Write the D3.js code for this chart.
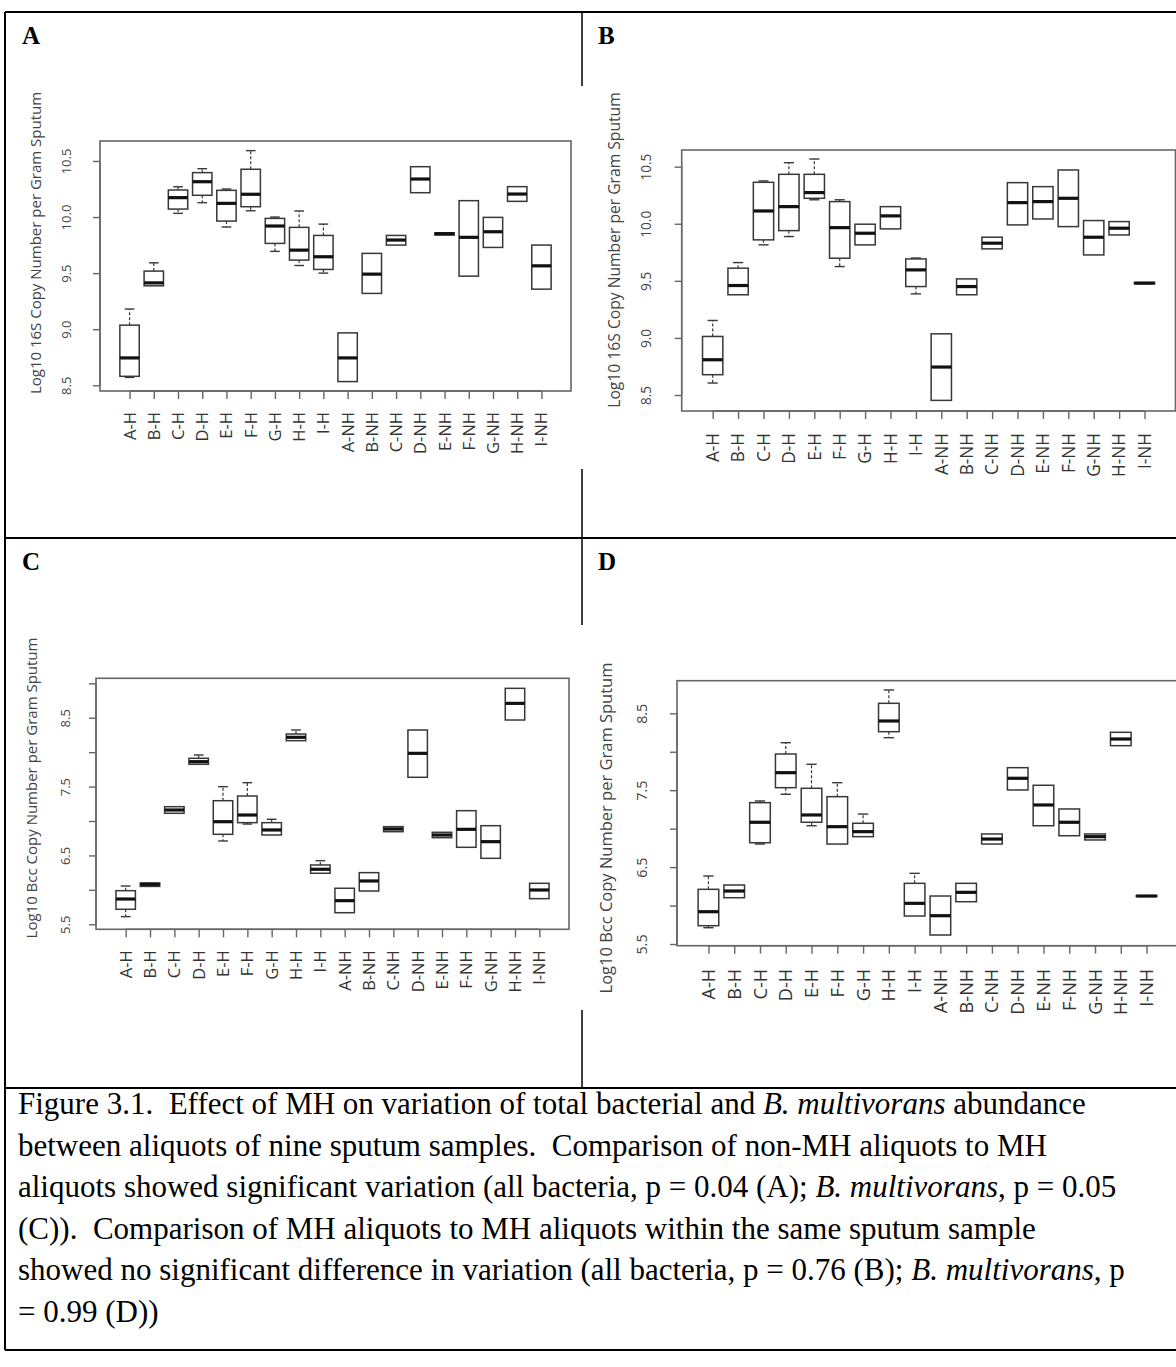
<!DOCTYPE html>
<html>
<head>
<meta charset="utf-8">
<script src="https://cdn.jsdelivr.net/npm/d3@7/dist/d3.min.js"></script>
<style>
  body { margin: 0; background: #fff; }
  svg text { white-space: pre; }
</style>
</head>
<body>
<svg id="fig" width="1176" height="1367"></svg>
<script>
// Aliquot labels along every x axis
const categories = ["A-H","B-H","C-H","D-H","E-H","F-H","G-H","H-H","I-H",
                    "A-NH","B-NH","C-NH","D-NH","E-NH","F-NH","G-NH","H-NH","I-NH"];

// Five-number summaries per aliquot: [lower whisker, Q1, median, Q3, upper whisker]
// A: total bacteria (16S), non-MH vs MH
const statsA = [
  [8.57, 8.58, 8.744, 9.036, 9.18], [9.387, 9.387, 9.413, 9.518, 9.592],
  [10.033, 10.071, 10.173, 10.241, 10.27], [10.128, 10.194, 10.315, 10.396, 10.431],
  [9.911, 9.964, 10.122, 10.238, 10.25], [10.056, 10.092, 10.203, 10.426, 10.592],
  [9.694, 9.765, 9.92, 9.988, 10.0], [9.568, 9.616, 9.705, 9.908, 10.054],
  [9.50, 9.533, 9.646, 9.836, 9.937], [8.533, 8.533, 8.744, 8.967, 8.967],
  [9.319, 9.319, 9.491, 9.676, 9.676], [9.75, 9.75, 9.795, 9.836, 9.836],
  [10.217, 10.217, 10.339, 10.449, 10.449], [9.84, 9.84, 9.851, 9.86, 9.86],
  [9.473, 9.473, 9.819, 10.146, 10.146], [9.729, 9.729, 9.869, 9.997, 9.997],
  [10.14, 10.14, 10.205, 10.271, 10.271], [9.357, 9.357, 9.565, 9.75, 9.75]
];
// B: total bacteria (16S), MH vs MH
const statsB = [
  [8.605, 8.678, 8.809, 9.013, 9.153], [9.378, 9.378, 9.459, 9.611, 9.66],
  [9.815, 9.859, 10.112, 10.363, 10.375], [9.888, 9.94, 10.15, 10.433, 10.535],
  [10.21, 10.223, 10.273, 10.433, 10.567], [9.625, 9.698, 9.966, 10.194, 10.21],
  [9.815, 9.815, 9.917, 9.996, 9.996], [9.955, 9.955, 10.069, 10.15, 10.15],
  [9.386, 9.45, 9.596, 9.692, 9.70], [8.453, 8.453, 8.745, 9.036, 9.036],
  [9.378, 9.378, 9.45, 9.517, 9.517], [9.78, 9.78, 9.83, 9.882, 9.882],
  [9.99, 9.99, 10.185, 10.36, 10.36], [10.042, 10.042, 10.194, 10.325, 10.325],
  [9.975, 9.975, 10.223, 10.471, 10.471], [9.727, 9.727, 9.882, 10.028, 10.028],
  [9.902, 9.902, 9.961, 10.019, 10.019], [9.475, 9.475, 9.48, 9.485, 9.485]
];
// C: B. multivorans (Bcc), non-MH vs MH
const statsC = [
  [5.611, 5.718, 5.867, 5.988, 6.056], [6.05, 6.05, 6.08, 6.1, 6.1],
  [7.112, 7.112, 7.16, 7.208, 7.208], [7.824, 7.824, 7.862, 7.911, 7.959],
  [6.71, 6.807, 6.99, 7.295, 7.499], [6.956, 6.976, 7.087, 7.363, 7.557],
  [6.797, 6.797, 6.87, 6.976, 7.025], [8.167, 8.167, 8.216, 8.264, 8.322],
  [6.241, 6.241, 6.299, 6.361, 6.424], [5.668, 5.668, 5.843, 6.023, 6.023],
  [5.983, 5.983, 6.129, 6.25, 6.25], [6.845, 6.845, 6.884, 6.918, 6.918],
  [7.635, 7.635, 7.983, 8.322, 8.322], [6.758, 6.758, 6.797, 6.836, 6.836],
  [6.618, 6.618, 6.879, 7.15, 7.15], [6.458, 6.458, 6.70, 6.932, 6.932],
  [8.467, 8.467, 8.709, 8.927, 8.927], [5.872, 5.872, 5.998, 6.095, 6.095]
];
// D: B. multivorans (Bcc), MH vs MH
const statsD = [
  [5.712, 5.738, 5.92, 6.211, 6.384], [6.102, 6.102, 6.189, 6.267, 6.267],
  [6.80, 6.817, 7.083, 7.338, 7.36], [7.447, 7.533, 7.728, 7.971, 8.118],
  [7.038, 7.083, 7.178, 7.525, 7.837], [6.80, 6.80, 7.026, 7.416, 7.598],
  [6.896, 6.896, 6.961, 7.07, 7.19], [8.183, 8.261, 8.40, 8.63, 8.803],
  [5.864, 5.864, 6.029, 6.289, 6.419], [5.617, 5.617, 5.868, 6.124, 6.124],
  [6.05, 6.05, 6.172, 6.289, 6.289], [6.80, 6.80, 6.865, 6.931, 6.931],
  [7.503, 7.503, 7.655, 7.793, 7.793], [7.038, 7.038, 7.308, 7.564, 7.564],
  [6.908, 6.908, 7.083, 7.256, 7.256], [6.853, 6.853, 6.896, 6.931, 6.931],
  [8.079, 8.079, 8.166, 8.253, 8.253], [6.12, 6.12, 6.124, 6.128, 6.128]
];

// Axis ticks and the labels printed beside them
const ticks16S = [8.5, 9.0, 9.5, 10.0, 10.5];
const tickLabels16S = ["8.5", "9.0", "9.5", "10.0", "10.5"];
const ticksBccC = [5.5, 6.0, 6.5, 7.0, 7.5, 8.0, 8.5, 9.0];
const ticksBccD = [5.5, 6.0, 6.5, 7.0, 7.5, 8.0, 8.5];
const tickLabelsBcc = ["5.5", "", "6.5", "", "7.5", "", "8.5", ""];

const title16S = "Log10 16S Copy Number per Gram Sputum";
const titleBcc = "Log10 Bcc Copy Number per Gram Sputum";
const panelLetters = ["A", "B", "C", "D"];

const captionLines = [
  ["Figure 3.1.  Effect of MH on variation of total bacterial and ", {i: "B. multivorans"}, " abundance"],
  ["between aliquots of nine sputum samples.  Comparison of non-MH aliquots to MH"],
  ["aliquots showed significant variation (all bacteria, p = 0.04 (A); ", {i: "B. multivorans"}, ", p = 0.05"],
  ["(C)).  Comparison of MH aliquots to MH aliquots within the same sputum sample"],
  ["showed no significant difference in variation (all bacteria, p = 0.76 (B); ", {i: "B. multivorans"}, ", p"],
  ["= 0.99 (D))"]
];

// ---------- layout ----------
const svg = d3.select("#fig");
const W = 1176;
const grid = { left: 5, right: 1176, top: 12, mid: 582, row1: 538, row2: 1088, bottom: 1350 };

const panels = [
  { stats: statsA, ticks: ticks16S, labels: tickLabels16S, title: title16S,
    box: { l: 100, r: 571, t: 141, b: 391 }, yDom: [8.449, 10.678], titleY: 243, fs: 1.0, lab: 29 },
  { stats: statsB, ticks: ticks16S, labels: tickLabels16S, title: title16S,
    box: { l: 681.7, r: 1175.5, t: 150, b: 411 }, yDom: [8.36, 10.646], titleY: 250, fs: 1.045, lab: 29 },
  { stats: statsC, ticks: ticksBccC, labels: tickLabelsBcc, title: titleBcc,
    box: { l: 96, r: 569, t: 678.3, b: 929.3 }, yDom: [5.427, 9.073], titleY: 788, fs: 1.0, lab: 26 },
  { stats: statsD, ticks: ticksBccD, labels: tickLabelsBcc, title: titleBcc,
    box: { l: 677, r: 1178, t: 680.7, b: 945.7 }, yDom: [5.478, 8.924], titleY: 828, fs: 1.1, lab: 27 }
];

const ink = "#383838";
const frameInk = "#666";
const textInk = "#444";
const sans = "'Open Sans', 'Liberation Sans', sans-serif";

panels.forEach(p => {
  const g = svg.append("g");
  // categories sit at 1..n inside an R-style padded range
  const x = d3.scaleLinear().domain([-0.22, categories.length + 1.22]).range([p.box.l, p.box.r]);
  const y = d3.scaleLinear().domain(p.yDom).range([p.box.b, p.box.t]);
  const half = 0.4, staple = 0.2;

  // frame
  g.append("rect")
    .attr("x", p.box.l).attr("y", p.box.t)
    .attr("width", Math.min(p.box.r, W + 2) - p.box.l).attr("height", p.box.b - p.box.t)
    .attr("fill", "none").attr("stroke", frameInk).attr("stroke-width", 1.6);

  // y axis
  const yAxis = d3.axisLeft(y).tickValues(p.ticks).tickSize(7)
    .tickFormat((d, i) => p.labels[i]);
  const ya = g.append("g").attr("transform", `translate(${p.box.l},0)`).call(yAxis);
  ya.select(".domain").attr("stroke", frameInk).attr("stroke-width", 1.4)
    .attr("d", `M0,${y(p.ticks[0])}V${y(p.ticks[p.ticks.length - 1])}`);
  ya.selectAll(".tick line").attr("stroke", frameInk).attr("stroke-width", 1.4);
  ya.selectAll(".tick text")
    .attr("x", null).attr("dy", null)
    .attr("text-anchor", "middle")
    .attr("transform", `translate(${-p.lab * p.fs},0) rotate(-90)`)
    .attr("fill", textInk)
    .style("font-family", sans)
    .style("font-size", (13 * p.fs) + "px");

  // x axis
  const xAxis = d3.axisBottom(x).tickValues(d3.range(1, categories.length + 1)).tickSize(8)
    .tickFormat(d => categories[d - 1]);
  const xa = g.append("g").attr("transform", `translate(0,${p.box.b})`).call(xAxis);
  xa.select(".domain").attr("stroke", frameInk).attr("stroke-width", 1.4)
    .attr("d", `M${x(1)},0H${x(categories.length)}`);
  xa.selectAll(".tick line").attr("stroke", frameInk).attr("stroke-width", 1.4);
  xa.selectAll(".tick text")
    .attr("y", null).attr("dy", null)
    .attr("text-anchor", "end")
    .attr("transform", `translate(${5.5 * p.fs},${21 * p.fs}) rotate(-90)`)
    .attr("fill", "#333")
    .style("font-family", sans)
    .style("font-size", (16.5 * p.fs) + "px");

  // y title
  g.append("text")
    .attr("transform", `translate(${p.box.l - 59 * p.fs},${p.titleY}) rotate(-90)`)
    .attr("text-anchor", "middle")
    .attr("fill", textInk)
    .style("font-family", sans)
    .style("font-size", (15 * p.fs) + "px")
    .text(p.title);

  // boxes
  g.append("g").selectAll("g").data(p.stats).join("g").each(function (s, i) {
    const c = i + 1;
    const sel = d3.select(this);
    const [lo, q1, med, q3, hi] = s;
    const whisker = (from, to) => {
      sel.append("line").attr("x1", x(c)).attr("x2", x(c)).attr("y1", y(from)).attr("y2", y(to))
        .attr("stroke", ink).attr("stroke-width", 1.2).attr("stroke-dasharray", "3,2");
      sel.append("line").attr("x1", x(c - staple)).attr("x2", x(c + staple)).attr("y1", y(to)).attr("y2", y(to))
        .attr("stroke", ink).attr("stroke-width", 1.4);
    };
    if (hi - q3 > 0.002) whisker(q3, hi);
    if (q1 - lo > 0.002) whisker(q1, lo);
    sel.append("rect")
      .attr("x", x(c - half)).attr("width", x(c + half) - x(c - half))
      .attr("y", y(q3)).attr("height", Math.max(0.5, y(q1) - y(q3)))
      .attr("fill", "#fff").attr("stroke", ink).attr("stroke-width", 1.5);
    sel.append("line").attr("x1", x(c - half)).attr("x2", x(c + half)).attr("y1", y(med)).attr("y2", y(med))
      .attr("stroke", "#111").attr("stroke-width", 3.2);
  });
});

// ---------- table grid ----------
const gridG = svg.append("g").attr("stroke", "#000").attr("stroke-width", 2);
[grid.top, grid.row1, grid.row2, grid.bottom].forEach(yy =>
  gridG.append("line").attr("x1", grid.left).attr("x2", grid.right).attr("y1", yy).attr("y2", yy));
gridG.append("line").attr("x1", grid.left).attr("x2", grid.left).attr("y1", grid.top).attr("y2", grid.bottom);
// centre divider is interrupted where the right-hand plots overlap it
[[grid.top, 86], [469, grid.row1], [grid.row1, 625], [1010, grid.row2]].forEach(([a, b]) =>
  gridG.append("line").attr("x1", grid.mid).attr("x2", grid.mid).attr("y1", a).attr("y2", b)
    .attr("stroke-width", 1.5));

// panel letters
const letterPos = [[22, 44], [598, 44], [22, 570], [598, 570]];
svg.selectAll("text.letter").data(panelLetters).join("text")
  .attr("class", "letter")
  .attr("x", (d, i) => letterPos[i][0]).attr("y", (d, i) => letterPos[i][1])
  .style("font-family", "'Liberation Serif', 'Times New Roman', serif")
  .style("font-weight", "bold").style("font-size", "25px")
  .text(d => d);

// caption
const cap = svg.append("g")
  .style("font-family", "'Liberation Serif', 'Times New Roman', serif")
  .style("font-size", "31px").attr("fill", "#000");
captionLines.forEach((parts, li) => {
  const t = cap.append("text").attr("x", 18).attr("y", 1114 + li * 41.5);
  parts.forEach(part => {
    if (typeof part === "string") t.append("tspan").text(part);
    else t.append("tspan").style("font-style", "italic").text(part.i);
  });
});
</script>
</body>
</html>
